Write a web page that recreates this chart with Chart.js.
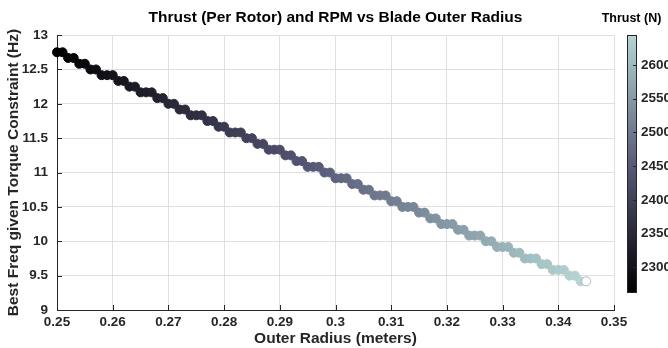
<!DOCTYPE html>
<html>
<head>
<meta charset="utf-8">
<script src="https://cdn.jsdelivr.net/npm/chart.js@4.4.1/dist/chart.umd.min.js"></script>
<style>
  html, body { margin: 0; padding: 0; background: #fff; }
  #chart { display: block; }
</style>
</head>
<body>
<canvas id="chart" width="668" height="348"></canvas>
<script>
// Outer radius (m)
const radius = [
  0.250, 0.251, 0.252, 0.253, 0.254, 0.255, 0.256, 0.257, 0.258, 0.259,
  0.260, 0.261, 0.262, 0.263, 0.264, 0.265, 0.266, 0.267, 0.268, 0.269,
  0.270, 0.271, 0.272, 0.273, 0.274, 0.275, 0.276, 0.277, 0.278, 0.279,
  0.280, 0.281, 0.282, 0.283, 0.284, 0.285, 0.286, 0.287, 0.288, 0.289,
  0.290, 0.291, 0.292, 0.293, 0.294, 0.295, 0.296, 0.297, 0.298, 0.299,
  0.300, 0.301, 0.302, 0.303, 0.304, 0.305, 0.306, 0.307, 0.308, 0.309,
  0.310, 0.311, 0.312, 0.313, 0.314, 0.315, 0.316, 0.317, 0.318, 0.319,
  0.320, 0.321, 0.322, 0.323, 0.324, 0.325, 0.326, 0.327, 0.328, 0.329,
  0.330, 0.331, 0.332, 0.333, 0.334, 0.335, 0.336, 0.337, 0.338, 0.339,
  0.340, 0.341, 0.342, 0.343, 0.344, 0.345
];
// Best frequency given torque constraint (Hz)
const freq = [
  12.75, 12.75, 12.667, 12.667, 12.583, 12.583, 12.5, 12.5, 12.417, 12.417,
  12.417, 12.333, 12.333, 12.25, 12.25, 12.167, 12.167, 12.167, 12.083, 12.083,
  12.0, 12.0, 11.917, 11.917, 11.833, 11.833, 11.833, 11.75, 11.75, 11.667,
  11.667, 11.583, 11.583, 11.583, 11.5, 11.5, 11.417, 11.417, 11.333, 11.333,
  11.333, 11.25, 11.25, 11.167, 11.167, 11.083, 11.083, 11.083, 11.0, 11.0,
  10.917, 10.917, 10.917, 10.833, 10.833, 10.75, 10.75, 10.667, 10.667, 10.667,
  10.583, 10.583, 10.5, 10.5, 10.5, 10.417, 10.417, 10.333, 10.333, 10.25,
  10.25, 10.25, 10.167, 10.167, 10.083, 10.083, 10.083, 10.0, 10.0, 9.917,
  9.917, 9.917, 9.833, 9.833, 9.75, 9.75, 9.75, 9.667, 9.667, 9.583,
  9.583, 9.583, 9.5, 9.5, 9.417, 9.417
];
// Thrust per rotor (N), shown as colour
const thrust = [
  2263, 2267, 2271, 2275, 2279, 2283, 2287, 2291, 2295, 2299,
  2304, 2308, 2312, 2316, 2320, 2324, 2328, 2332, 2336, 2340,
  2344, 2348, 2352, 2356, 2360, 2364, 2368, 2372, 2376, 2381,
  2385, 2389, 2393, 2397, 2401, 2405, 2409, 2413, 2417, 2421,
  2425, 2429, 2433, 2437, 2441, 2445, 2449, 2453, 2458, 2462,
  2466, 2470, 2474, 2478, 2482, 2486, 2490, 2494, 2498, 2502,
  2506, 2510, 2514, 2518, 2522, 2526, 2530, 2535, 2539, 2543,
  2547, 2551, 2555, 2559, 2563, 2567, 2571, 2575, 2579, 2583,
  2587, 2591, 2595, 2599, 2603, 2607, 2612, 2616, 2620, 2624,
  2628, 2632, 2636, 2640, 2644, 2606
];

const xTicks = [0.25, 0.26, 0.27, 0.28, 0.29, 0.3, 0.31, 0.32, 0.33, 0.34, 0.35];
const yTicks = [9, 9.5, 10, 10.5, 11, 11.5, 12, 12.5, 13];
const thrustTicks = [2300, 2350, 2400, 2450, 2500, 2550, 2600];
const thrustLimits = [2263, 2644];

const FONT = '"Liberation Sans", Arial, sans-serif';
const AXIS = '#262626';

// MATLAB "bone" colormap (the exported picture reads a little darker, hence the 0.8)
function bone(t) {
  t = 0.8 * Math.min(1, Math.max(0, t));
  const hr = Math.min(1, t / 0.375);
  const hg = Math.min(1, Math.max(0, (t - 0.375) / 0.375));
  const hb = Math.max(0, (t - 0.75) / 0.25);
  const r = (7 * t + hb) / 8, g = (7 * t + hg) / 8, b = (7 * t + hr) / 8;
  return `rgb(${Math.round(r * 255)},${Math.round(g * 255)},${Math.round(b * 255)})`;
}
const thrustColor = v => bone((v - thrustLimits[0]) / (thrustLimits[1] - thrustLimits[0]));

// title, inward ticks and the colorbar
const decor = {
  id: 'decor',
  afterDraw(chart) {
    const { ctx, chartArea: { left, right, bottom }, scales: { x, y, c } } = chart;
    ctx.save();

    ctx.fillStyle = '#000';
    ctx.font = `bold 15.5px ${FONT}`;
    ctx.textAlign = 'center';
    ctx.textBaseline = 'middle';
    ctx.fillText('Thrust (Per Rotor) and RPM vs Blade Outer Radius', (left + right) / 2, 18);

    ctx.strokeStyle = AXIS;
    ctx.lineWidth = 1;
    ctx.beginPath();
    xTicks.forEach(v => {
      const px = Math.round(x.getPixelForValue(v)) + 0.5;
      ctx.moveTo(px, bottom);
      ctx.lineTo(px, bottom - 5);
    });
    yTicks.forEach(v => {
      const py = Math.round(y.getPixelForValue(v)) + 0.5;
      ctx.moveTo(left, py);
      ctx.lineTo(left + 5, py);
    });
    ctx.stroke();

    const bx = c.left + 13, bw = 9;
    const top = c.getPixelForValue(thrustLimits[1]);
    const bot = c.getPixelForValue(thrustLimits[0]);
    const grad = ctx.createLinearGradient(0, bot, 0, top);
    for (let i = 0; i <= 32; i++) grad.addColorStop(i / 32, bone(i / 32));
    ctx.fillStyle = grad;
    ctx.fillRect(bx, top, bw, bot - top);
    ctx.strokeStyle = AXIS;
    ctx.strokeRect(bx + 0.5, Math.round(top) + 0.5, bw, Math.round(bot - top));
    ctx.beginPath();
    thrustTicks.forEach(v => {
      const py = Math.round(c.getPixelForValue(v)) + 0.5;
      ctx.moveTo(bx + bw, py);
      ctx.lineTo(bx + bw - 3, py);
    });
    ctx.stroke();

    ctx.fillStyle = '#000';
    ctx.font = `bold 12.5px ${FONT}`;
    ctx.fillText('Thrust (N)', bx + bw / 2, 19);
    ctx.restore();
  }
};

const tickFont = { family: FONT, size: 13.5, weight: 'bold' };
const titleFont = { family: FONT, size: 15.5, weight: 'bold' };

new Chart(document.getElementById('chart'), {
  type: 'scatter',
  data: {
    datasets: [{
      data: radius.map((r, i) => ({ x: r, y: freq[i] })),
      pointRadius: 4.5,
      pointHoverRadius: 4.5,
      borderWidth: 1,
      pointBorderColor: ctx => thrustColor(thrust[ctx.dataIndex]),
      pointBackgroundColor: ctx => ctx.dataIndex === thrust.length - 1 ? '#fff' : thrustColor(thrust[ctx.dataIndex]),
      clip: false
    }]
  },
  options: {
    responsive: false,
    animation: false,
    devicePixelRatio: 1,
    layout: { padding: { top: 32 } },
    plugins: { legend: { display: false }, tooltip: { enabled: false } },
    scales: {
      x: {
        type: 'linear', min: 0.25, max: 0.35,
        afterBuildTicks: s => { s.ticks = xTicks.map(v => ({ value: v })); },
        afterFit: s => { s.height = 38; },
        ticks: { callback: v => String(+v.toFixed(2)), color: AXIS, font: tickFont, padding: 4, maxRotation: 0, autoSkip: false },
        grid: { color: '#dfdfdf', drawTicks: false },
        border: { color: AXIS },
        title: { display: true, text: 'Outer Radius (meters)', color: AXIS, font: titleFont, padding: 0 }
      },
      y: {
        min: 9, max: 13,
        afterBuildTicks: s => { s.ticks = yTicks.map(v => ({ value: v })); },
        afterFit: s => { s.width = 57; },
        ticks: { callback: v => String(v), color: AXIS, font: tickFont, padding: 9, autoSkip: false },
        grid: { color: '#dfdfdf', drawTicks: false },
        border: { color: AXIS },
        title: { display: true, text: 'Best Freq given Torque Constraint (Hz)', color: AXIS, font: titleFont, padding: { top: 4 } }
      },
      c: {
        position: 'right', min: 2237, max: 2644,
        afterBuildTicks: s => { s.ticks = thrustTicks.map(v => ({ value: v })); },
        afterFit: s => { s.width = 54; },
        ticks: { callback: v => String(v), color: AXIS, font: tickFont, padding: 27, autoSkip: false },
        grid: { display: false, drawTicks: false },
        border: { display: false }
      }
    }
  },
  plugins: [decor]
});
</script>
</body>
</html>
